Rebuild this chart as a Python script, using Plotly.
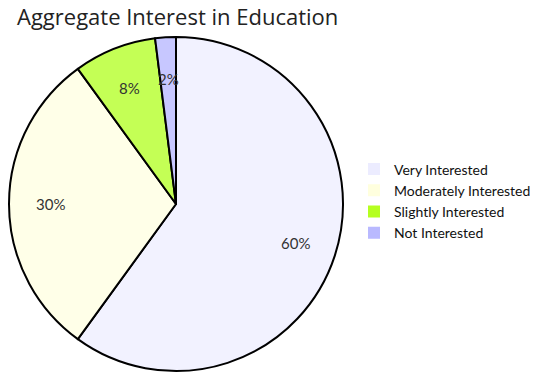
"""
Pie chart: aggregate interest in education
"""
import math
import plotly.graph_objects as go

#* Data
labels = ["Very Interested", "Moderately Interested", "Slightly Interested", "Not Interested"]
values = [60, 30, 8, 2]
colors = ["#F2F2FF", "#FFFFE8", "#C4FF55", "#C7C7FF"]         # slices (faded)
legend_colors = ["#ECECFF", "#FFFFDE", "#B5FF20", "#B9B9FF"]  # legend swatches

#* Geometry (pixels)
W, H = 550, 379
cx, cy, r = 176, 204, 167
FONT = "Trebuchet MS, Open Sans, sans-serif"
LFONT = "Lato, sans-serif"

domain = dict(x=[(cx - r) / W, (cx + r) / W], y=[1 - (cy + r) / H, 1 - (cy - r) / H])

fig = go.Figure()

#* Bottom pie only feeds the legend (plain swatches without outline), it is covered
fig.add_trace(go.Pie(
    labels=labels,
    values=values,
    sort=False,
    direction="clockwise",
    rotation=0,
    textinfo="none",
    hoverinfo="skip",
    marker=dict(colors=legend_colors, line=dict(width=0)),
    domain=domain,
))

#* Visible pie with black outlines
fig.add_trace(go.Pie(
    labels=labels,
    values=values,
    sort=False,
    direction="clockwise",
    rotation=0,
    textinfo="none",
    hoverinfo="label+percent",
    showlegend=False,
    marker=dict(colors=colors, line=dict(color="black", width=2)),
    domain=domain,
))

#* Percentage labels at 0.75 of the radius, middle of each slice
total = sum(values)
start = 0
annotations = []
for v in values:
    mid = (start + v / 2) / total * 2 * math.pi
    start += v
    px = cx + 0.75 * r * math.sin(mid)
    py = cy - 0.75 * r * math.cos(mid)
    annotations.append(dict(
        x=px / W, y=1 - py / H, xref="paper", yref="paper",
        xanchor="center", yanchor="middle",
        text=f"{round(v / total * 100)}%", showarrow=False,
        font=dict(family=LFONT, size=15, color="#333333"),
    ))

fig.update_layout(
    width=W,
    height=H,
    autosize=False,
    margin=dict(l=0, r=0, t=0, b=0),
    paper_bgcolor="white",
    title=dict(
        text="Aggregate Interest in Education",
        x=17 / W, xanchor="left",
        y=1 - 17 / H, yanchor="middle",
        font=dict(family=FONT, size=22, color="#222222"),
    ),
    legend=dict(
        x=354 / W, y=1 - 201 / H, xanchor="left", yanchor="middle",
        font=dict(family=LFONT, size=14, color="#111111"),
        tracegroupgap=0,
        bgcolor="rgba(0,0,0,0)",
    ),
    annotations=annotations,
)

#* Page body has a default margin, drop it so the figure sits at the corner
fig.write_html(
    "out.html",
    config={"displayModeBar": False},
    post_script="document.body.style.margin='0px';",
)
